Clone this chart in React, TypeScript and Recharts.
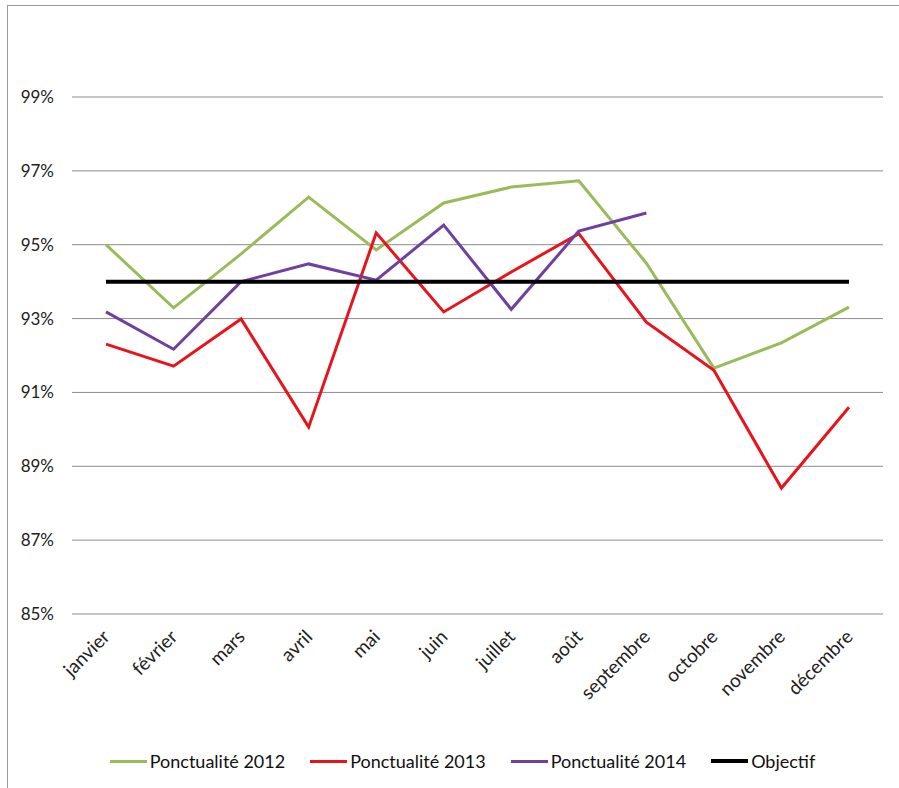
import React from 'react';
import { LineChart, Line, XAxis, YAxis, CartesianGrid, Legend } from 'recharts';

const months = [
  'janvier', 'février', 'mars', 'avril', 'mai', 'juin',
  'juillet', 'août', 'septembre', 'octobre', 'novembre', 'décembre',
];

const ponct2012 = [95.0, 93.29, 94.75, 96.29, 94.86, 96.13, 96.56, 96.73, 94.5, 91.66, 92.34, 93.31];
const ponct2013 = [92.31, 91.71, 92.99, 90.06, 95.32, 93.18, 94.26, 95.3, 92.9, 91.6, 88.41, 90.6];
const ponct2014 = [93.18, 92.17, 94.0, 94.48, 94.04, 95.53, 93.25, 95.37, 95.86, null, null, null];
const objectif = [94, 94, 94, 94, 94, 94, 94, 94, 94, 94, 94, 94];

const yTicks = [85, 87, 89, 91, 93, 95, 97, 99];

const series = [
  { key: 'p2012', name: 'Ponctualité 2012', color: '#9bbb59', width: 3, values: ponct2012 },
  { key: 'p2013', name: 'Ponctualité 2013', color: '#e8141c', width: 3, values: ponct2013 },
  { key: 'p2014', name: 'Ponctualité 2014', color: '#7040a0', width: 3, values: ponct2014 },
  { key: 'obj', name: 'Objectif', color: '#000000', width: 4, values: objectif },
];

const data = months.map((m, i) => {
  const row: any = { month: m };
  series.forEach(s => {
    row[s.key] = s.values[i];
  });
  return row;
});

const FONT = 'Lato, "Open Sans", sans-serif';

const MonthTick = (props: any) => {
  const { x, y, payload } = props;
  const tx = x + 5;
  const ty = y + 16;
  return (
    <text
      x={tx}
      y={ty}
      textAnchor="end"
      fontSize={19}
      fontFamily={FONT}
      fill="#222"
      transform={`rotate(-45, ${tx}, ${ty})`}
    >
      {payload.value}
    </text>
  );
};

const LegendContent = () => (
  <div
    style={{
      display: 'flex',
      justifyContent: 'center',
      alignItems: 'center',
      fontFamily: FONT,
      fontSize: 18,
      color: '#111',
      paddingLeft: 30,
    }}
  >
    {series.map((s, i) => (
      <div key={s.key} style={{ display: 'flex', alignItems: 'center', marginLeft: i === 0 ? 0 : 25 }}>
        <span
          style={{
            display: 'inline-block',
            width: 37,
            height: s.width,
            background: s.color,
            marginRight: 3,
          }}
        />
        <span>{s.name}</span>
      </div>
    ))}
  </div>
);

export default function App() {
  return (
    <div
      style={{
        position: 'absolute',
        left: 0,
        top: 0,
        width: 899,
        height: 788,
        overflow: 'hidden',
        background: '#fff',
      }}
    >
      <div
        style={{
          position: 'absolute',
          left: 7,
          top: 5,
          width: 1000,
          height: 1000,
          border: '1px solid #9a9a9a',
        }}
      />
      <div style={{ position: 'absolute', left: 0, top: 0 }}>
        <LineChart
          width={899}
          height={788}
          data={data}
          margin={{ top: 97, right: 16, left: 12, bottom: 16 }}
        >
          <CartesianGrid stroke="#8c8c8c" vertical={false} />
          <XAxis
            dataKey="month"
            axisLine={false}
            tickLine={false}
            interval={0}
            height={136}
            tick={<MonthTick />}
            padding={{ left: 34, right: 34 }}
          />
          <YAxis
            domain={[85, 99]}
            ticks={yTicks}
            axisLine={false}
            tickLine={false}
            width={60}
            tickFormatter={(v: number) => `${v}%`}
            tick={{ fontSize: 17, fontFamily: FONT, fill: '#222', dx: -10 }}
          />
          <Legend verticalAlign="bottom" content={<LegendContent />} />
          {series.map(s => (
            <Line
              key={s.key}
              type="linear"
              dataKey={s.key}
              name={s.name}
              stroke={s.color}
              strokeWidth={s.width}
              dot={false}
              activeDot={false}
              isAnimationActive={false}
            />
          ))}
        </LineChart>
      </div>
    </div>
  );
}
